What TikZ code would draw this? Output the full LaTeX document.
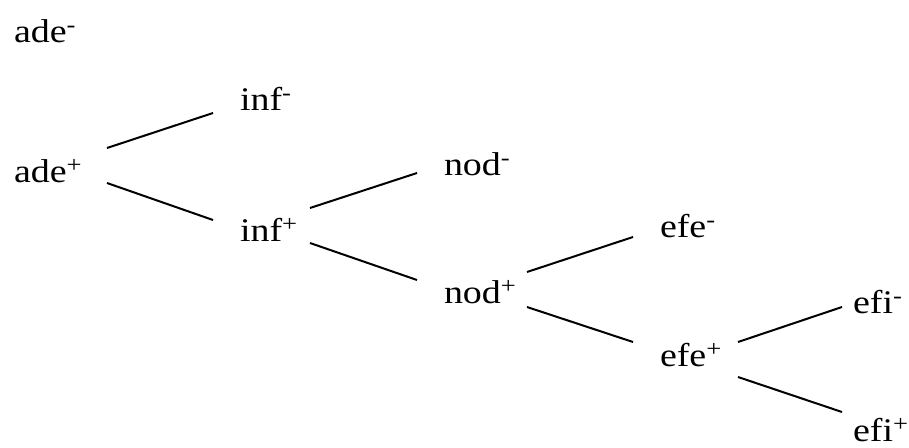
\documentclass[tikz,border=0pt]{standalone}
\usepackage{fontspec}
\setmainfont{Liberation Serif}[FakeStretch=1.15]
\begin{document}
\begin{tikzpicture}[x=1pt,y=-1pt,line width=2pt,
  term/.style={anchor=base west,inner sep=0pt,font=\fontsize{33}{38}\selectfont},
  link/.style={line cap=butt}]
 \useasboundingbox (0,0) rectangle (909,447);
 %% labels, one column per feature
 \node[term] (adem) at (13,42)  {ade\textsuperscript{-}};
 \node[term] (adep) at (13,182) {ade\textsuperscript{+}};
 \node[term] (infm) at (239,110) {inf\textsuperscript{-}};
 \node[term] (infp) at (239,241) {inf\textsuperscript{+}};
 \node[term] (nodm) at (443,175) {nod\textsuperscript{-}};
 \node[term] (nodp) at (443,303) {nod\textsuperscript{+}};
 \node[term] (efem) at (659,237) {efe\textsuperscript{-}};
 \node[term] (efep) at (659,366) {efe\textsuperscript{+}};
 \node[term] (efim) at (852,313) {efi\textsuperscript{-}};
 \node[term] (efip) at (852,441) {efi\textsuperscript{+}};
 %% branches: parent/child/start shift/end shift
 \foreach \a/\b/\ax/\ay/\bx/\by in {adep/infm/94/-34/-26/3, adep/infp/94/1/-26/-21,
   infp/nodm/71/-33/-26/-2, infp/nodp/71/2/-26/-23,
   nodp/efem/84/-31/-26/0, nodp/efep/84/4/-26/-24,
   efep/efim/79/-24/-10/-6, efep/efip/79/11/-10/-29}
  {\draw[link] ([shift={(\ax,\ay)}]\a.base west) -- ([shift={(\bx,\by)}]\b.base west);}
\end{tikzpicture}
\end{document}
